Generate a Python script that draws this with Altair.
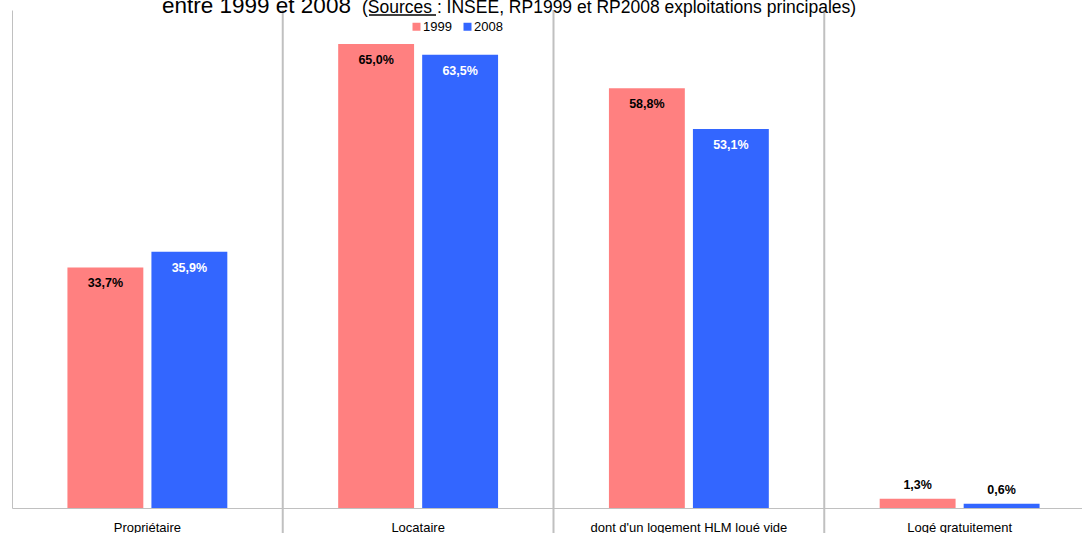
import altair as alt
import pandas as pd

categories = ["Propriétaire", "Locataire", "dont d'un logement HLM loué vide", "Logé gratuitement"]
years = ["1999", "2008"]
v1999 = [33.7, 65.0, 58.8, 1.3]
v2008 = [35.9, 63.5, 53.1, 0.6]
title_main = "entre 1999 et 2008"
title_src = "(Sources : INSEE, RP1999 et RP2008 exploitations principales)"

RED = "#FF8080"
BLUE = "#3366FF"
FONT = "Liberation Sans"

rows = []
for c, a, b in zip(categories, v1999, v2008):
    for y, v in (("1999", a), ("2008", b)):
        big = v > 5
        rows.append({
            "cat": c, "year": y, "value": v,
            "label": f"{v:.1f}%".replace(".", ","),
            "lcolor": ("white" if (y == "2008" and big) else "black"),
            "big": big,
        })
df = pd.DataFrame(rows)

xscale = alt.Scale(domain=categories, range=[0, 1083], paddingInner=0, paddingOuter=0)
yscale = alt.Scale(domain=[0, 69.77], nice=False)
offscale = alt.Scale(domain=years, paddingInner=0.0964, paddingOuter=0.66)

X = alt.X("cat:N", scale=xscale, title=None)
Y = alt.Y("value:Q", scale=yscale, title=None)
XO = alt.XOffset("year:N", scale=offscale)

base = alt.Chart(df)

seps = base.transform_filter(
    alt.datum.cat != categories[0]
).transform_filter(alt.datum.year == "1999").mark_rule(
    color="#C0C0C0", strokeWidth=2
).encode(
    x=alt.X("cat:N", scale=xscale, bandPosition=0, title=None),
    y=alt.value(0),
    y2=alt.value(523),
)

bars = base.mark_bar().encode(
    x=X, xOffset=XO, y=Y,
    color=alt.Color("year:N", scale=alt.Scale(domain=years, range=[RED, BLUE]),
                    legend=alt.Legend(orient="none", legendX=398, legendY=10,
                                      direction="horizontal", title=None,
                                      symbolType="square", symbolSize=64,
                                      symbolStrokeWidth=0, labelFontSize=13,
                                      labelFont=FONT, labelColor="black",
                                      labelOffset=0, columnPadding=9, padding=0)),
)

lab_big = base.transform_filter(alt.datum.big).mark_text(
    dy=16, fontWeight="bold", fontSize=12.5, font=FONT, baseline="middle"
).encode(
    x=X, xOffset=XO, y=Y,
    text="label:N",
    color=alt.Color("lcolor:N", scale=None),
)

lab_small = base.transform_filter(~alt.datum.big).mark_text(
    dy=-14, fontWeight="bold", fontSize=12.5, font=FONT, baseline="middle"
).encode(
    x=X, xOffset=XO, y=Y,
    text="label:N",
    color=alt.Color("lcolor:N", scale=None),
)

t1 = alt.Chart(pd.DataFrame({"t": [title_main]})).mark_text(
    align="left", baseline="alphabetic", fontSize=22.5, font=FONT, color="black"
).encode(x=alt.value(150), y=alt.value(3), text="t:N")

t2 = alt.Chart(pd.DataFrame({"t": [title_src]})).mark_text(
    align="left", baseline="alphabetic", fontSize=17.5, font=FONT, color="black"
).encode(x=alt.value(350), y=alt.value(3), text="t:N")

underline = alt.Chart(pd.DataFrame({"t": [title_src]})).mark_rule(
    color="black", strokeWidth=1.5
).encode(x=alt.value(357), x2=alt.value(424), y=alt.value(5))

chart = alt.layer(seps, bars, lab_big, lab_small, t1, t2, underline).properties(
    width=1070, height=498,
    padding={"left": 12, "top": 10, "right": 0, "bottom": 25},
    autosize=alt.AutoSizeParams(type="none"),
    background="white",
).configure_view(stroke=None).configure_axisX(
    ticks=False, domainColor="#C0C0C0", domainWidth=1, labelFontSize=13,
    labelColor="black", labelFont=FONT, labelBaseline="alphabetic",
    labelAlign="center", labelPadding=23, labelLimit=400, labelAngle=0,
    grid=False,
).configure_axisY(
    labels=False, ticks=False, grid=False, domainColor="#C0C0C0", domainWidth=1,
)

chart.save("out.html", embed_options={"renderer": "svg", "actions": False})
